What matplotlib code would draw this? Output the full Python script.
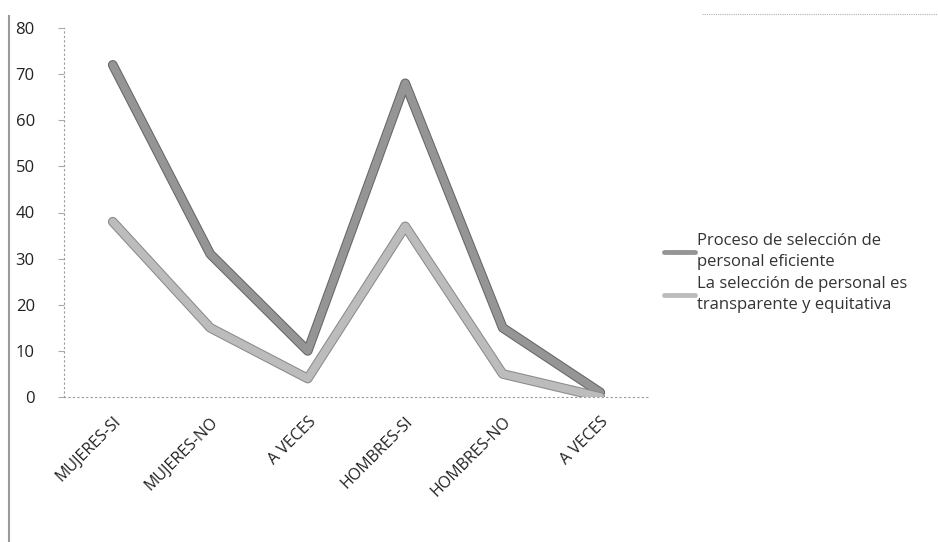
import matplotlib
matplotlib.use("Agg")
import matplotlib.pyplot as plt
import matplotlib.patheffects as pe
from matplotlib.lines import Line2D

categories = ["MUJERES-SI", "MUJERES-NO", "A VECES", "HOMBRES-SI", "HOMBRES-NO", "A VECES"]
eficiente = [72, 31, 10, 68, 15, 1]
transparente = [38, 15, 4, 37, 5, 0]
series_names = [
    "Proceso de selección de\npersonal eficiente",
    "La selección de personal es\ntransparente y equitativa",
]
y_ticks = [0, 10, 20, 30, 40, 50, 60, 70, 80]

plt.rcParams["font.family"] = ["Open Sans", "DejaVu Sans"]

fig = plt.figure(figsize=(9.38, 5.42), dpi=100)
ax = fig.add_axes([64 / 938, 1 - 397 / 542, 585 / 938, 369 / 542])

x = list(range(len(categories)))
styles = [("#959595", "#666666"), ("#bcbcbc", "#8a8a8a")]
for values, name, (fill, edge) in zip([eficiente, transparente], series_names, styles):
    ax.plot(x, values, color=fill, lw=5.5, label=name,
            solid_joinstyle="round", solid_capstyle="round",
            path_effects=[pe.Stroke(linewidth=7, foreground=edge), pe.Normal()])

ax.set_xlim(-0.5, len(categories) - 0.5)
ax.set_ylim(0, 80)
ax.set_yticks(y_ticks)
ax.set_yticklabels([str(v) for v in y_ticks], fontsize=12, color="#222222")
ax.set_xticks(x)
ax.set_xticklabels(categories, rotation=45, ha="right", rotation_mode="anchor",
                   fontsize=11.5, color="#222222")
ax.tick_params(axis="x", length=0, pad=12)
ax.tick_params(axis="y", length=4, color="#aaaaaa", pad=17)

for side in ["top", "right"]:
    ax.spines[side].set_visible(False)
for side in ["left", "bottom"]:
    ax.spines[side].set_linestyle((0, (1, 3)))
    ax.spines[side].set_color("#999999")
    ax.spines[side].set_linewidth(0.8)

leg = fig.legend(loc="upper left", bbox_to_anchor=(657 / 938, 1 - 226 / 542),
                 frameon=False, fontsize=12, handlelength=1.9, handletextpad=0.1,
                 labelspacing=0.35, borderaxespad=0)
for t in leg.get_texts():
    t.set_color("#333333")
    t.set_linespacing(1.45)
for h in leg.legend_handles:
    h.set_linewidth(3.5)
    h.set_path_effects([])

# page border remnants
fig.add_artist(Line2D([9 / 938, 9 / 938], [0, 0.97], color="#9a9a9a", lw=1.5))
fig.add_artist(Line2D([702 / 938, 1], [1 - 14 / 542, 1 - 14 / 542], color="#b0b0b0",
                      lw=0.8, linestyle=(0, (1, 1))))

fig.savefig("out.png", dpi=100)
